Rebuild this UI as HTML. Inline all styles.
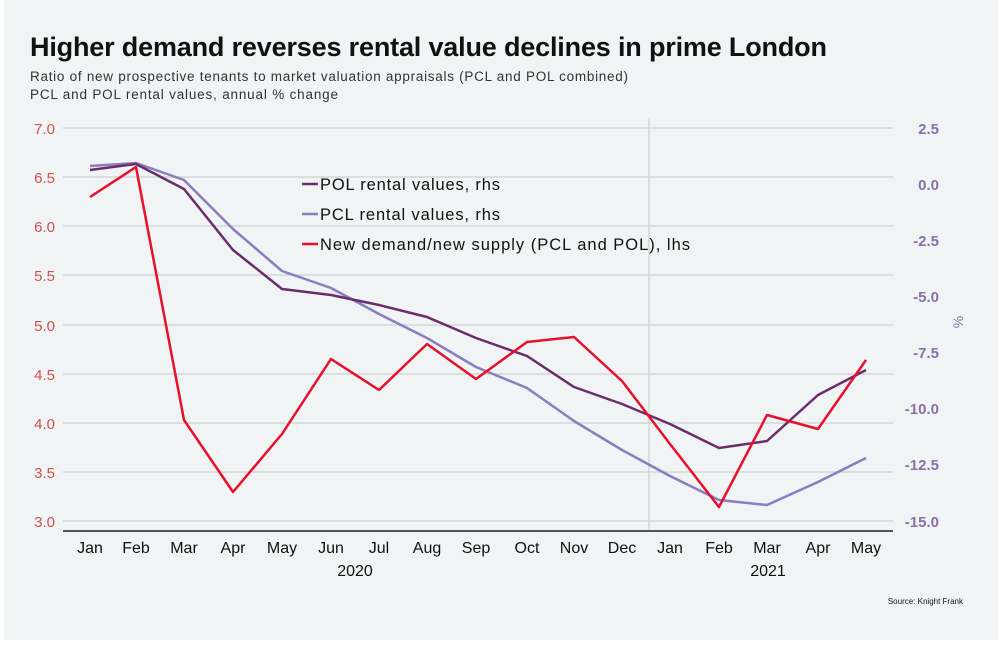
<!DOCTYPE html>
<html><head><style>
body{margin:0;width:1000px;height:645px;background:#fff;font-family:"Liberation Sans",sans-serif;}
</style></head><body>
<svg width="1000" height="645" xmlns="http://www.w3.org/2000/svg" font-family="Liberation Sans, sans-serif">
<rect x="4" y="0" width="994" height="640" fill="#f0f4f4"/>
<text x="30" y="56" font-size="27" font-weight="bold" fill="#111" textLength="797">Higher demand reverses rental value declines in prime London</text>
<text x="30" y="81" font-size="13.5" fill="#333" textLength="598">Ratio of new prospective tenants to market valuation appraisals (PCL and POL combined)</text>
<text x="30" y="99" font-size="13.5" fill="#333" textLength="308">PCL and POL rental values, annual % change</text>
<g stroke="#d4d6d6" stroke-width="1.5">
<line x1="63" x2="893" y1="128" y2="128"/><line x1="63" x2="893" y1="177" y2="177"/>
<line x1="63" x2="893" y1="226" y2="226"/><line x1="63" x2="893" y1="275" y2="275"/>
<line x1="63" x2="893" y1="325" y2="325"/><line x1="63" x2="893" y1="374" y2="374"/>
<line x1="63" x2="893" y1="423" y2="423"/><line x1="63" x2="893" y1="472" y2="472"/>
<line x1="63" x2="893" y1="521" y2="521"/>
<line x1="649" x2="649" y1="118" y2="531"/>
</g>
<line x1="63" x2="893" y1="531" y2="531" stroke="#555" stroke-width="2"/>
<g font-size="15" fill="#d0504f" text-anchor="end">
<text x="55" y="134">7.0</text><text x="55" y="183">6.5</text><text x="55" y="232">6.0</text>
<text x="55" y="281">5.5</text><text x="55" y="331">5.0</text><text x="55" y="380">4.5</text>
<text x="55" y="429">4.0</text><text x="55" y="478">3.5</text><text x="55" y="527">3.0</text>
</g>
<g font-size="15" fill="#8a70a8" text-anchor="end" font-weight="bold">
<text x="939" y="134">2.5</text><text x="939" y="190">0.0</text><text x="939" y="246">-2.5</text>
<text x="939" y="302">-5.0</text><text x="939" y="358">-7.5</text><text x="939" y="414">-10.0</text>
<text x="939" y="470">-12.5</text><text x="939" y="527">-15.0</text>
</g>
<text transform="translate(963,322) rotate(-90)" font-size="14" fill="#8a70a8" text-anchor="middle">%</text>
<g font-size="16" fill="#111" text-anchor="middle">
<text x="90" y="553">Jan</text><text x="136" y="553">Feb</text><text x="184" y="553">Mar</text>
<text x="233" y="553">Apr</text><text x="282" y="553">May</text><text x="331" y="553">Jun</text>
<text x="379" y="553">Jul</text><text x="427" y="553">Aug</text><text x="476" y="553">Sep</text>
<text x="527" y="553">Oct</text><text x="574" y="553">Nov</text><text x="622" y="553">Dec</text>
<text x="670" y="553">Jan</text><text x="719" y="553">Feb</text><text x="767" y="553">Mar</text>
<text x="818" y="553">Apr</text><text x="866" y="553">May</text>
<text x="355" y="576">2020</text><text x="768" y="576">2021</text>
</g>
<text x="963" y="604" font-size="8" fill="#111" text-anchor="end">Source: Knight Frank</text>
<g fill="none" stroke-width="2.5" stroke-linejoin="round">
<polyline stroke="#8c7cc0" points="90,166 136,163 184,180 233,229 282,271 331,288 379,314 427,338 476,367 527,388 574,421 622,450 670,476 719,500 767,505 818,482 866,458"/>
<polyline stroke="#6b2c6b" points="90,170 136,164 184,189 233,250 282,289 331,295 379,305 427,317 476,338 527,356 574,387 622,404 670,424 719,448 767,441 818,395 866,370"/>
<polyline stroke="#e8102a" points="90,197 136,167 184,420 233,492 282,434 331,359 379,390 427,344 476,379 527,342 574,337 622,381 670,444 719,507 767,415 818,429 866,360"/>
</g>
<g font-size="16.5" fill="#111">
<line x1="302" x2="318" y1="184" y2="184" stroke="#6b2c6b" stroke-width="2.5"/>
<text x="320" y="190" textLength="180">POL rental values, rhs</text>
<line x1="302" x2="318" y1="214" y2="214" stroke="#8c7cc0" stroke-width="2.5"/>
<text x="320" y="220" textLength="180">PCL rental values, rhs</text>
<line x1="302" x2="318" y1="244" y2="244" stroke="#e8102a" stroke-width="2.5"/>
<text x="320" y="250" textLength="370">New demand/new supply (PCL and POL), lhs</text>
</g>
</svg>
</body></html>
